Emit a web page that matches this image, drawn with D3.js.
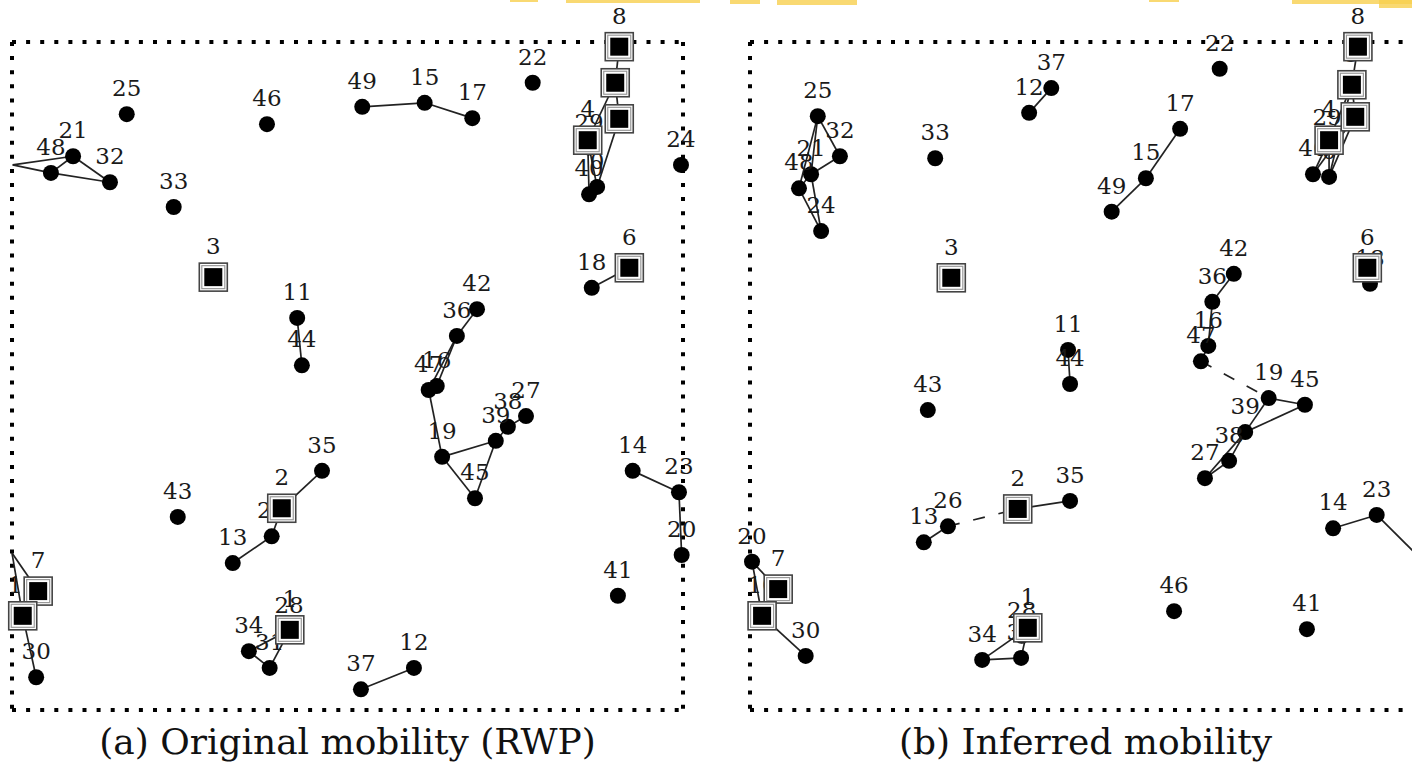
<!DOCTYPE html>
<html lang="en">
<head>
<meta charset="UTF-8">
<title>Original vs inferred mobility</title>
<script src="https://d3js.org/d3.v7.min.js"></script>
<style>
  body { margin: 0; background: #ffffff; }
  .lbl { font-family: "DejaVu Serif", serif; font-size: 23px; fill: #1a1a1a; }
  .cap { font-family: "DejaVu Serif", serif; font-size: 36px; fill: #111; }
</style>
</head>
<body>
<svg id="chart" width="1412" height="765"></svg>
<script>

// area is 1000 x 1000 (m), y grows upwards. ids starting with "h" are off-frame points
let anchorIds = [1, 2, 3, 4, 5, 6, 7, 8, 9, 10];

let origNodes = [
  ['h1', 1, 816], ['h2', 0, 235],
  [0, 872, 783], [1, 414, 120], [2, 402, 302], [3, 300, 648], [4, 858, 853],
  [5, 899, 939], [6, 920, 662], [7, 39, 178], [8, 905, 993], [9, 905, 885],
  [10, 16, 141], [11, 425, 587], [12, 599, 63], [13, 329, 220], [14, 925, 358],
  [15, 615, 909], [16, 633, 485], [17, 686, 886], [18, 864, 632], [19, 641, 379],
  [20, 998, 232], [21, 91, 829], [22, 776, 939], [23, 994, 326], [24, 997, 816],
  [25, 171, 892], [26, 387, 260], [27, 766, 440], [28, 413, 118], [29, 860, 842],
  [30, 36, 49], [31, 384, 63], [32, 146, 790], [33, 241, 753], [34, 353, 88],
  [35, 462, 358], [36, 663, 560], [37, 520, 31], [38, 739, 424], [39, 721, 403],
  [40, 860, 772], [41, 903, 171], [42, 693, 600], [43, 247, 289], [44, 432, 516],
  [45, 690, 317], [46, 380, 877], [47, 621, 479], [48, 58, 804], [49, 522, 903]
];

let origEdges = [
  ['h1', 21], ['h1', 48], [48, 32], [21, 32], [48, 21], [49, 15], [15, 17],
  [8, 5], [5, 9], [5, 4], [4, 40], [4, 0], [9, 0], [6, 18], [11, 44],
  [2, 35], [2, 26], [26, 13], [42, 36], [36, 47], [36, 16], [47, 19],
  [19, 39], [19, 45], [45, 39], [39, 38], [38, 27], [14, 23], [23, 20],
  ['h2', 7], ['h2', 10], [10, 30], [34, 1], [34, 31], [31, 1], [37, 12]
];

let inferredNodes = [
  ['h3', 1028, 198],
  [0, 863, 798], [1, 414, 123], [2, 399, 301], [3, 300, 647], [4, 863, 853],
  [5, 897, 936], [6, 920, 662], [7, 42, 181], [8, 906, 993], [9, 902, 888],
  [10, 18, 141], [11, 474, 539], [12, 416, 894], [13, 259, 251], [14, 869, 272],
  [15, 590, 796], [16, 683, 545], [17, 641, 870], [18, 924, 638], [19, 773, 467],
  [20, 3, 222], [21, 91, 802], [22, 700, 960], [23, 934, 292], [24, 106, 717],
  [25, 101, 889], [26, 295, 275], [27, 678, 347], [28, 405, 111], [29, 860, 849],
  [30, 83, 81], [31, 404, 78], [32, 134, 829], [33, 276, 826], [34, 346, 75],
  [35, 477, 313], [36, 689, 611], [37, 449, 931], [38, 714, 373], [39, 738, 416],
  [40, 839, 802], [41, 830, 121], [42, 721, 653], [43, 265, 449], [44, 477, 488],
  [45, 827, 457], [46, 632, 148], [47, 672, 522], [48, 73, 781], [49, 539, 746]
];

let inferredEdges = [
  [25, 21], [25, 48], [25, 32], [21, 32], [21, 48], [21, 24], [48, 24],
  [12, 37], [49, 15], [15, 17], [8, 5], [5, 9], [5, 4], [9, 4], [4, 40],
  [4, 0], [9, 40], [9, 0], [5, 0], [6, 18], [11, 44], [42, 36], [36, 16],
  [16, 47], [19, 45], [19, 39], [45, 39], [39, 38], [38, 27], [39, 27],
  [14, 23], [23, 'h3'], [13, 26], [2, 35], [20, 7], [20, 10], [10, 30],
  [34, 1], [34, 31], [31, 1]
];

let inferredDashed = [[47, 19], [26, 2]];

let captions = ['(a) Original mobility (RWP)', '(b) Inferred mobility'];

let svg = d3.select('#chart');

// remains of a yellow highlight from the page above
let marks = [[510, 538, 2], [566, 700, 3], [730, 760, 4], [777, 857, 5], [1149, 1179, 2], [1292, 1412, 4], [1379, 1412, 8]];
svg.selectAll('rect.hl').data(marks).enter().append('rect')
  .attr('class', 'hl')
  .attr('x', d => d[0]).attr('y', 0)
  .attr('width', d => d[1] - d[0]).attr('height', d => d[2])
  .style('fill', '#f8cf4f').style('opacity', 0.8);

let drawPanel = function(left, nodes, edges, dashed, caption) {
  let x = d3.scaleLinear().domain([0, 1000]).range([left, left + 671]);
  let y = d3.scaleLinear().domain([0, 1000]).range([710, 42]);
  let g = svg.append('g');

  let pos = {};
  nodes.forEach(n => { pos[n[0]] = { x: x(n[1]), y: y(n[2]) }; });

  // dotted frame
  let x0 = x(0), x1 = x(1000), y0 = y(1000), y1 = y(0);
  [[x0, y0, x1, y0], [x0, y0, x0, y1], [x0, y1, x1, y1], [x1, y0, x1, y1]].forEach(s => {
    g.append('line')
      .attr('x1', s[0]).attr('y1', s[1]).attr('x2', s[2]).attr('y2', s[3])
      .style('stroke', '#000').style('stroke-width', 4)
      .style('stroke-dasharray', '4,10.1');
  });

  let addEdges = function(list, dash) {
    g.selectAll(null).data(list).enter().append('line')
      .attr('x1', d => pos[d[0]].x).attr('y1', d => pos[d[0]].y)
      .attr('x2', d => pos[d[1]].x).attr('y2', d => pos[d[1]].y)
      .style('stroke', '#222').style('stroke-width', 1.7)
      .style('stroke-dasharray', dash);
  };
  addEdges(edges, null);
  addEdges(dashed, '12,14');

  let visible = nodes.filter(n => typeof n[0] === 'number');
  let isAnchor = n => anchorIds.indexOf(n[0]) >= 0;

  g.selectAll('circle').data(visible.filter(n => !isAnchor(n))).enter().append('circle')
    .attr('cx', d => pos[d[0]].x).attr('cy', d => pos[d[0]].y)
    .attr('r', 8).style('fill', '#000');

  g.selectAll('text.lbl').data(visible).enter().append('text')
    .attr('class', 'lbl')
    .attr('x', d => pos[d[0]].x)
    .attr('y', d => pos[d[0]].y - (isAnchor(d) ? 23 : 18))
    .attr('text-anchor', 'middle')
    .text(d => d[0]);

  let sq = g.selectAll('g.anchor').data(visible.filter(isAnchor)).enter().append('g')
    .attr('class', 'anchor')
    .attr('transform', d => 'translate(' + pos[d[0]].x + ',' + pos[d[0]].y + ')');
  sq.append('rect').attr('x', -14).attr('y', -14).attr('width', 28).attr('height', 28)
    .style('fill', '#fff').style('stroke', '#444').style('stroke-width', 1.6);
  sq.append('rect').attr('x', -11.5).attr('y', -11.5).attr('width', 23).attr('height', 23)
    .style('fill', '#fff').style('stroke', '#9a9a9a').style('stroke-width', 1.2);
  sq.append('rect').attr('x', -9).attr('y', -9).attr('width', 18).attr('height', 18)
    .style('fill', '#000');

  svg.append('text')
    .attr('class', 'cap')
    .attr('x', (x0 + x1) / 2).attr('y', 754)
    .attr('text-anchor', 'middle')
    .text(caption);
};

drawPanel(12, origNodes, origEdges, [], captions[0]);
drawPanel(750, inferredNodes, inferredEdges, inferredDashed, captions[1]);

</script>
</body>
</html>
